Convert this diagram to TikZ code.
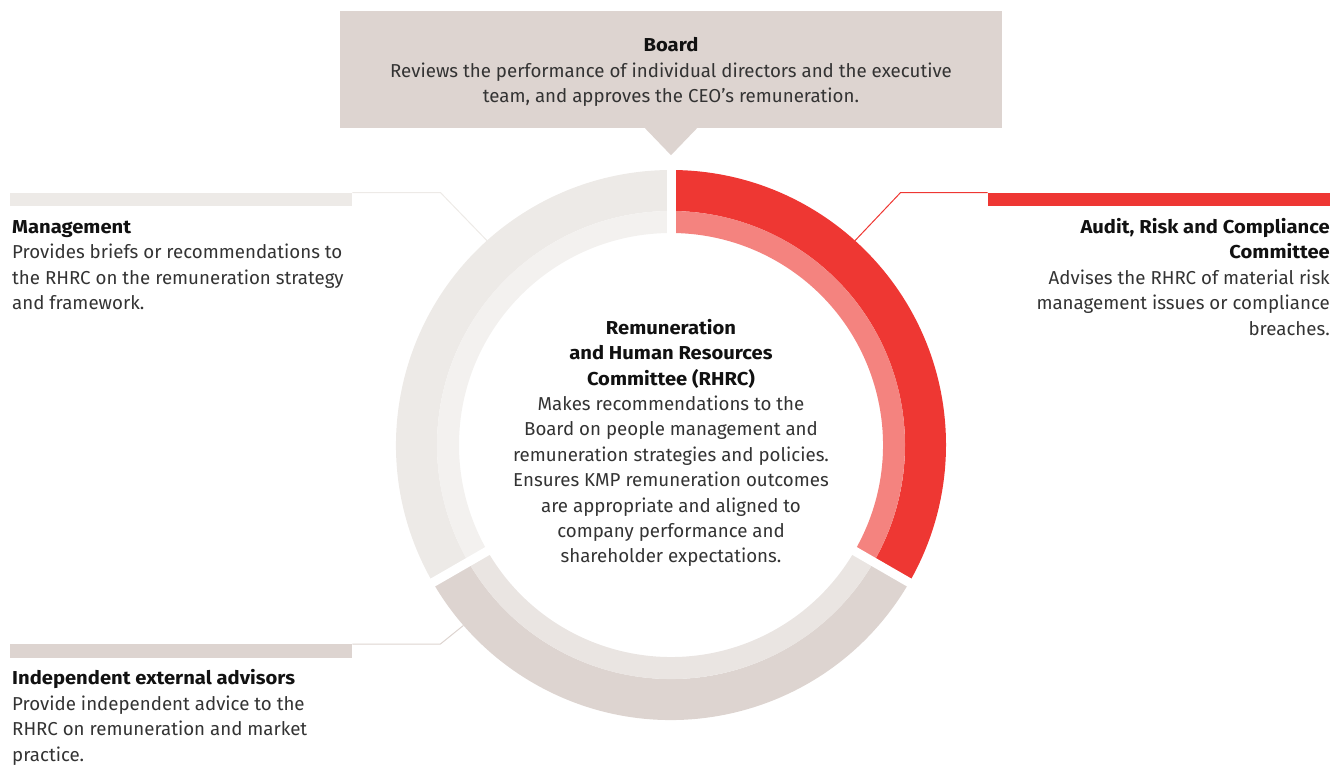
\documentclass[tikz,border=0pt]{standalone}
\usepackage{fontspec}
\setmainfont{Fira Sans}[BoldFeatures={FakeStretch=1.08}]
\usetikzlibrary{calc}
\definecolor{ringred}{HTML}{EE3733}
\definecolor{ringredlt}{HTML}{F4837F}
\definecolor{sandout}{HTML}{DDD4D0}
\definecolor{sandin}{HTML}{EAE5E2}
\definecolor{pale}{HTML}{EDEAE7}
\definecolor{palein}{HTML}{F3F1EF}
\definecolor{bodytxt}{HTML}{333333}
\definecolor{headtxt}{HTML}{111111}
\newcommand\annseg[5]{\fill[#1] ($(O)+(#2:#5pt)$) arc[start angle=#2,end angle=#3,radius=#5pt] -- ($(O)+(#3:#4pt)$) arc[start angle=#3,end angle=#2,radius=#4pt] -- cycle;}
\newcommand\hd[1]{{\bfseries\color{headtxt}#1}}
\begin{document}
\begin{tikzpicture}[x=1pt,y=1pt,
  body/.style={inner sep=0pt, font=\fontsize{18.7}{25.5}\selectfont, text=bodytxt},
  bar/.style={inner sep=0pt, minimum width=342pt, minimum height=13.5pt, anchor=north west},
  leader/.style={line width=1pt}]
\useasboundingbox (0,0) rectangle (1335,-764);
\coordinate (O) at (671,-445);
% leader end points on the ring
\coordinate (mring) at ($(O)+(132:275pt)$);
\coordinate (aring) at ($(O)+(48:275pt)$);
\coordinate (iring) at ($(O)+(221:275pt)$);
% side bars
\node[bar, fill=pale] (mbar) at (10,-192.5) {};
\node[bar, fill=ringred, anchor=north east] (abar) at (1330,-192.5) {};
\node[bar, fill=sandout] (ibar) at (10,-644) {};
% leaders
\draw[leader, pale] (mbar.north east) -- ++(88,0) -- (mring);
\draw[leader, ringred] (abar.north west) -- ++(-87,0) -- (aring);
\draw[leader, sandout] (ibar.north east) -- ++(88,0) -- (iring);
% ring
\annseg{ringred}{90}{-30}{234}{275}
\annseg{ringredlt}{90}{-30}{212}{234}
\annseg{sandout}{-30}{-150}{234}{275}
\annseg{sandin}{-30}{-150}{212}{234}
\annseg{pale}{210}{90}{234}{275}
\annseg{palein}{210}{90}{212}{234}
\foreach \a in {90,-30,210}{\draw[white, line width=9pt] (O) -- ($(O)+(\a:290pt)$);}
% board
\node[body, fill=sandout, minimum width=662pt, minimum height=117pt, align=center] (board) at (671,-69.5)
  {\hd{Board}\rule{0pt}{19pt}\\Reviews the performance of individual directors and the executive\\team, and approves the CEO’s remuneration.};
\fill[sandout] ($(board.south)+(-26,0)$) -- ($(board.south)+(0,-27)$) -- ($(board.south)+(26,0)$) -- cycle;
% texts
\node[body, anchor=north west, align=left] (mtext) at (12,-220)
  {\hd{Management}\\Provides briefs or recommendations to\\the RHRC on the remuneration strategy\\and framework.};
\node[body, anchor=north east, align=right] (atext) at (1330,-218)
  {\hd{Audit, Risk and Compliance}\\\hd{Committee}\\Advises the RHRC of material risk\\management issues or compliance\\breaches.};
\node[body, anchor=north west, align=left] (itext) at (12,-669.5)
  {\hd{Independent external advisors}\\Provide independent advice to the\\RHRC on remuneration and market\\practice.};
\node[body, font=\fontsize{18.7}{25.4}\selectfont, anchor=north, align=center] (rhrc) at (671,-319)
  {\hd{Remuneration}\\\hd{and Human Resources}\\\hd{Committee (RHRC)}\\Makes recommendations to the\\Board on people management and\\remuneration strategies and policies.\\Ensures KMP remuneration outcomes\\are appropriate and aligned to\\company performance and\\shareholder expectations.};
\end{tikzpicture}
\end{document}
